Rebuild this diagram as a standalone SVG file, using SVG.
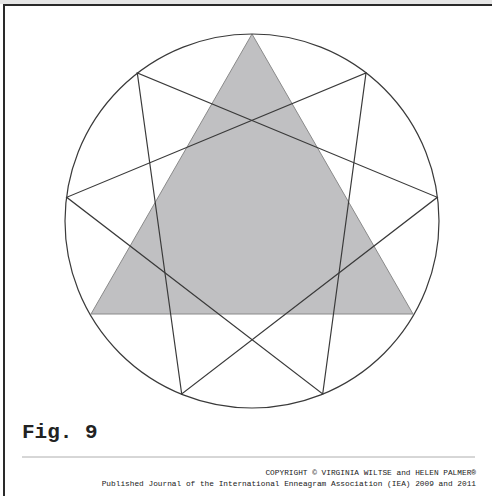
<svg xmlns="http://www.w3.org/2000/svg" width="492" height="496" viewBox="0 0 492 496">
<style>
.ln{stroke:#3a3a3a;stroke-width:1.2;fill:none}
.tri{fill:#c0c0c2;stroke:#8a8a8a;stroke-width:1}
.mono{font-family:"Liberation Mono","Courier New",monospace;fill:#222}
</style>
<rect x="0" y="0" width="492" height="496" fill="#ffffff"/>
<rect x="0" y="0" width="492" height="4" fill="#e6e6e6"/>
<rect x="4" y="5" width="520" height="520" fill="#ffffff" stroke="#2a2a2a" stroke-width="2"/>
<g id="triangle-9-3-6">
<polygon class="tri" points="252,34 413,314 91,314"/>
</g>
<g id="circle">
<circle class="ln" cx="252" cy="221" r="187"/>
</g>
<g id="connectors">
<polygon class="ln" points="366,73 322.7,394 66.7,197.3"/>
<polygon class="ln" points="137.3,73 181.7,394 437.3,197.3"/>
</g>
<g id="caption">
<text class="mono" x="22" y="438" font-size="21" font-weight="bold">Fig. 9</text>
<line x1="22" y1="457" x2="475" y2="457" stroke="#9a9a9a" stroke-width="0.8"/>
<text class="mono" x="476" y="474.5" font-size="7.8" text-anchor="end">COPYRIGHT © VIRGINIA WILTSE and HELEN PALMER®</text>
<text class="mono" x="476" y="486" font-size="7.8" text-anchor="end">Published Journal of the International Enneagram Association (IEA) 2009 and 2011</text>
</g>
</svg>
